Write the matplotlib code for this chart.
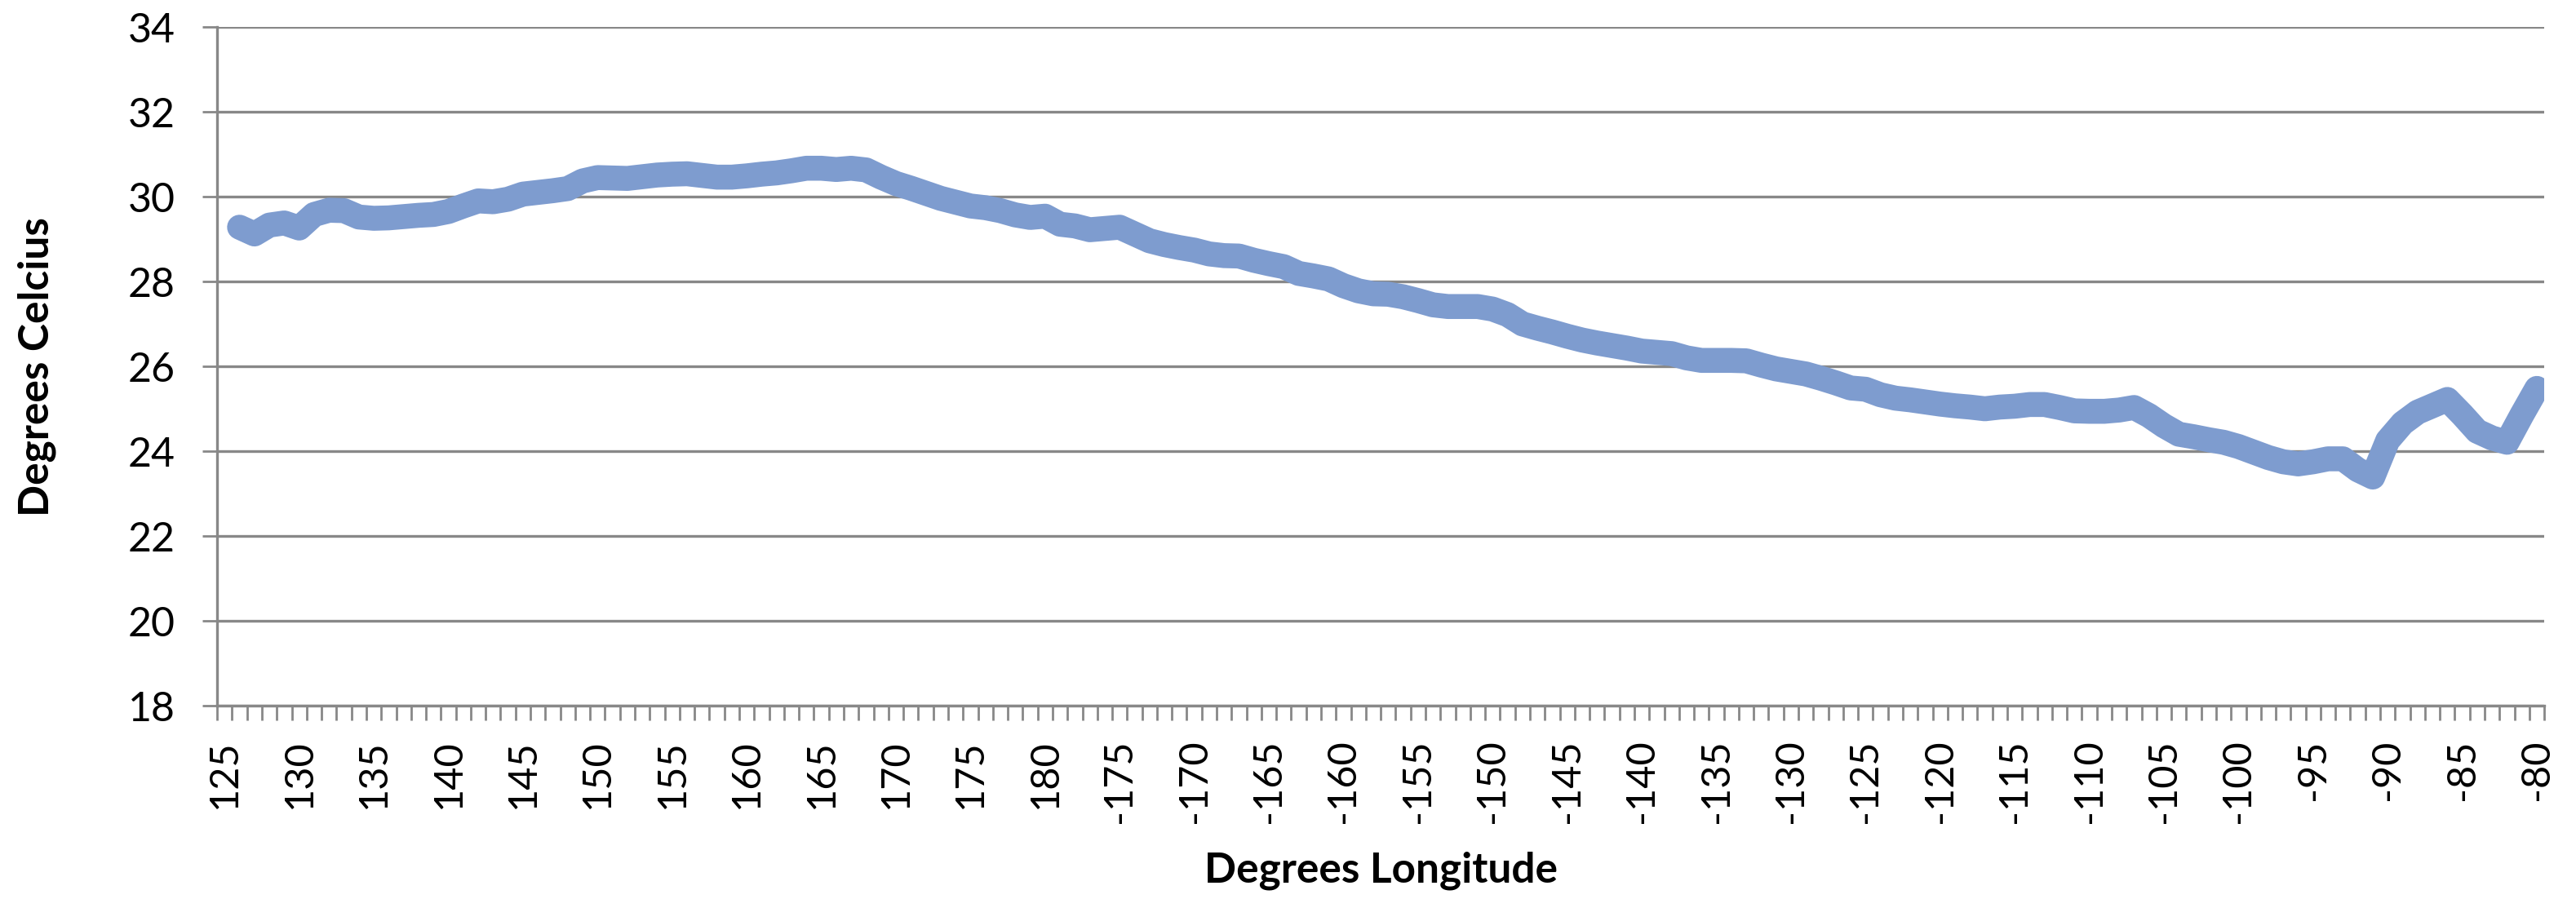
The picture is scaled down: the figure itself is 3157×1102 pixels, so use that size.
import numpy as np
import matplotlib
matplotlib.use('Agg')
import matplotlib.pyplot as plt

# longitudes, 125E across the date line to 80W
longitudes = list(range(125, 181)) + list(range(-179, -79))

# sea surface temperature (deg C), no value at 125
temps = [np.nan, 29.28, 29.12, 29.33, 29.38, 29.26, 29.58, 29.68, 29.67, 29.52,
         29.49, 29.50, 29.53, 29.56, 29.58, 29.65, 29.78, 29.90, 29.88, 29.94,
         30.06, 30.10, 30.14, 30.19, 30.37, 30.45, 30.44, 30.43, 30.47, 30.51,
         30.53, 30.54, 30.50, 30.46, 30.46, 30.49, 30.53, 30.56, 30.61, 30.67,
         30.67, 30.64, 30.67, 30.63, 30.46, 30.31, 30.20, 30.08, 29.96, 29.87,
         29.78, 29.74, 29.67, 29.57, 29.51, 29.54, 29.35, 29.31, 29.22, 29.25,
         29.28, 29.12, 28.96, 28.87, 28.80, 28.74, 28.65, 28.61, 28.60, 28.50,
         28.42, 28.35, 28.19, 28.13, 28.06, 27.90, 27.78, 27.71, 27.70, 27.64,
         27.55, 27.45, 27.41, 27.41, 27.41, 27.35, 27.22, 27.00, 26.90, 26.81,
         26.71, 26.62, 26.55, 26.49, 26.43, 26.36, 26.33, 26.30, 26.20, 26.14,
         26.14, 26.14, 26.13, 26.03, 25.94, 25.88, 25.82, 25.72, 25.61, 25.49,
         25.46, 25.33, 25.25, 25.21, 25.16, 25.11, 25.07, 25.04, 25.00, 25.04,
         25.06, 25.10, 25.10, 25.03, 24.95, 24.94, 24.94, 24.97, 25.03, 24.84,
         24.60, 24.40, 24.34, 24.27, 24.21, 24.11, 23.98, 23.85, 23.75, 23.70,
         23.75, 23.82, 23.82, 23.56, 23.39, 24.25, 24.66, 24.92, 25.07, 25.22,
         24.86, 24.47, 24.31, 24.21, 24.86, 25.48]

yticks = [18, 20, 22, 24, 26, 28, 30, 32, 34]

plt.rcParams['font.family'] = ['Lato', 'DejaVu Sans']

fig = plt.figure(figsize=(31.57, 11.02), dpi=100)
ax = fig.add_axes([0.0843, 0.215, 0.9034, 0.755])

x = np.arange(len(longitudes))
ax.plot(x, temps, color='#7E9CCF', linewidth=22, solid_capstyle='round', solid_joinstyle='round', zorder=3)

ax.set_xlim(-0.5, len(longitudes) - 0.5)
ax.set_ylim(18, 34)
ax.set_yticks(yticks)
ax.set_yticklabels([str(v) for v in yticks], fontsize=36)

ax.set_xticks(x[::5])
ax.set_xticklabels([str(v) for v in longitudes[::5]], rotation=90, fontsize=35)
ax.set_xticks(np.arange(len(longitudes) + 1) - 0.5, minor=True)
ax.tick_params(axis='x', which='major', length=0, pad=30)
ax.tick_params(axis='x', which='minor', length=13, width=2, color='#888888', direction='out')
ax.tick_params(axis='y', length=13, width=2, color='#888888', direction='out', pad=24)

ax.grid(True, axis='y', color='#888888', linewidth=2.4, zorder=1)
for s in ['top', 'right']:
    ax.spines[s].set_visible(False)
for s in ['left', 'bottom']:
    ax.spines[s].set_color('#888888')
    ax.spines[s].set_linewidth(2.4)

ax.set_ylabel('Degrees Celcius', fontsize=37, fontweight='bold')
ax.yaxis.set_label_coords(-0.069, 0.5)
ax.set_xlabel('Degrees Longitude', fontsize=37, fontweight='bold')
ax.xaxis.set_label_coords(0.5, -0.214)

fig.savefig('out.png', dpi=100, facecolor='white')
